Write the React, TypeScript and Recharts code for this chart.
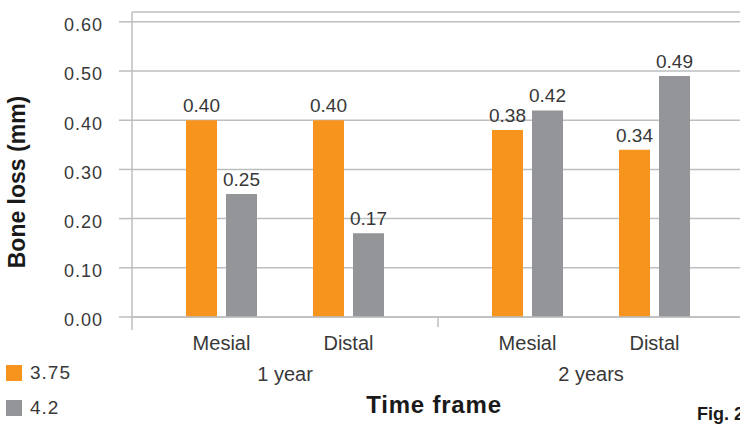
import { BarChart, Bar, XAxis, YAxis, CartesianGrid, LabelList } from "recharts";

// bone loss (mm) per site, for each implant diameter
const sites = ["Mesial", "Distal"];
const oneYear375 = [0.4, 0.4];
const oneYear42 = [0.25, 0.17];
const twoYears375 = [0.38, 0.34];
const twoYears42 = [0.42, 0.49];

const periods = ["1 year", "2 years"];
const seriesNames = ["3.75", "4.2"];
const yTicks = [0, 0.1, 0.2, 0.3, 0.4, 0.5, 0.6];

const colors = ["#f7941d", "#939598"];
const lineColor = "#bcbec0";
const textColor = "#383838";
const font = '"Liberation Sans", Arial, Helvetica, sans-serif';

const oneYearData = sites.map((site, i) => ({ site, d375: oneYear375[i], d42: oneYear42[i] }));
const twoYearData = sites.map((site, i) => ({ site, d375: twoYears375[i], d42: twoYears42[i] }));

const fmt = (v: number) => Number(v).toFixed(2);

function Series() {
  return (
    <>
      <Bar dataKey="d375" name={seriesNames[0]} fill={colors[0]} barSize={31} isAnimationActive={false}>
        <LabelList dataKey="d375" position="top" offset={8} formatter={fmt} fill={textColor} fontSize={19} />
      </Bar>
      <Bar dataKey="d42" name={seriesNames[1]} fill={colors[1]} barSize={31} isAnimationActive={false}>
        <LabelList dataKey="d42" position="top" offset={8} formatter={fmt} fill={textColor} fontSize={19} />
      </Bar>
    </>
  );
}

function PeriodChart({ data, period, withAxis }: { data: any[]; period: string; withAxis: boolean }) {
  return (
    <BarChart
      width={withAxis ? 438 : 306}
      height={430}
      data={data}
      barGap={9}
      margin={{ top: 12, right: 0, left: 0, bottom: 43 }}
    >
      <CartesianGrid vertical={false} stroke={lineColor} strokeWidth={1.5} />
      <YAxis
        hide={!withAxis}
        width={132}
        domain={[0, 0.62]}
        ticks={yTicks}
        tickFormatter={fmt}
        tickSize={13}
        tickMargin={16}
        axisLine={{ stroke: lineColor, strokeWidth: 1.5 }}
        tickLine={{ stroke: lineColor, strokeWidth: 1.5 }}
        tick={{ fill: textColor, fontSize: 18, letterSpacing: 1, dy: 3 }}
      />
      <XAxis
        dataKey="site"
        height={70}
        padding={{ left: 26, right: 26 }}
        tickLine={false}
        tickSize={0}
        tickMargin={19}
        axisLine={{ stroke: lineColor, strokeWidth: 1.5 }}
        tick={{ fill: textColor, fontSize: 20 }}
        label={{ value: period, position: "insideBottom", offset: 6, fill: textColor, fontSize: 20 }}
      />
      {Series()}
    </BarChart>
  );
}

export default function App() {
  return (
    <div
      style={{
        position: "absolute",
        left: 0,
        top: 0,
        width: 740,
        height: 430,
        overflow: "hidden",
        background: "#fff",
        fontFamily: font,
      }}
    >
      <div style={{ position: "absolute", left: 0, top: 0 }}>
        <PeriodChart data={oneYearData} period={periods[0]} withAxis />
      </div>
      <div style={{ position: "absolute", left: 438, top: 0 }}>
        <PeriodChart data={twoYearData} period={periods[1]} withAxis={false} />
      </div>

      {/* axis ticks below the baseline, titles and figure tag */}
      <svg width={740} height={430} style={{ position: "absolute", left: 0, top: 0, pointerEvents: "none" }}>
        <line x1={132} x2={132} y1={317} y2={330} stroke={lineColor} strokeWidth={1.5} />
        <line x1={438} x2={438} y1={317} y2={327} stroke={lineColor} strokeWidth={1.5} />
        <text
          transform="translate(25,182) rotate(-90)"
          textAnchor="middle"
          fontSize={23}
          fontWeight="bold"
          fill="#1a1a1a"
        >
          Bone loss (mm)
        </text>
        <text x={434} y={413} textAnchor="middle" fontSize={24} fontWeight="bold" letterSpacing={0.8} fill="#1a1a1a">
          Time frame
        </text>
        <text x={697} y={420} fontSize={18} fontWeight="bold" fill="#1a1a1a">
          Fig. 2
        </text>
      </svg>

      <div style={{ position: "absolute", left: 6, top: 365 }}>
        {seriesNames.map((name, i) => (
          <div key={name} style={{ display: "flex", alignItems: "center", height: 16, marginBottom: 19 }}>
            <div style={{ width: 16, height: 16, background: colors[i] }} />
            <span style={{ marginLeft: 8, fontSize: 19, letterSpacing: 1, color: textColor }}>{name}</span>
          </div>
        ))}
      </div>
    </div>
  );
}
